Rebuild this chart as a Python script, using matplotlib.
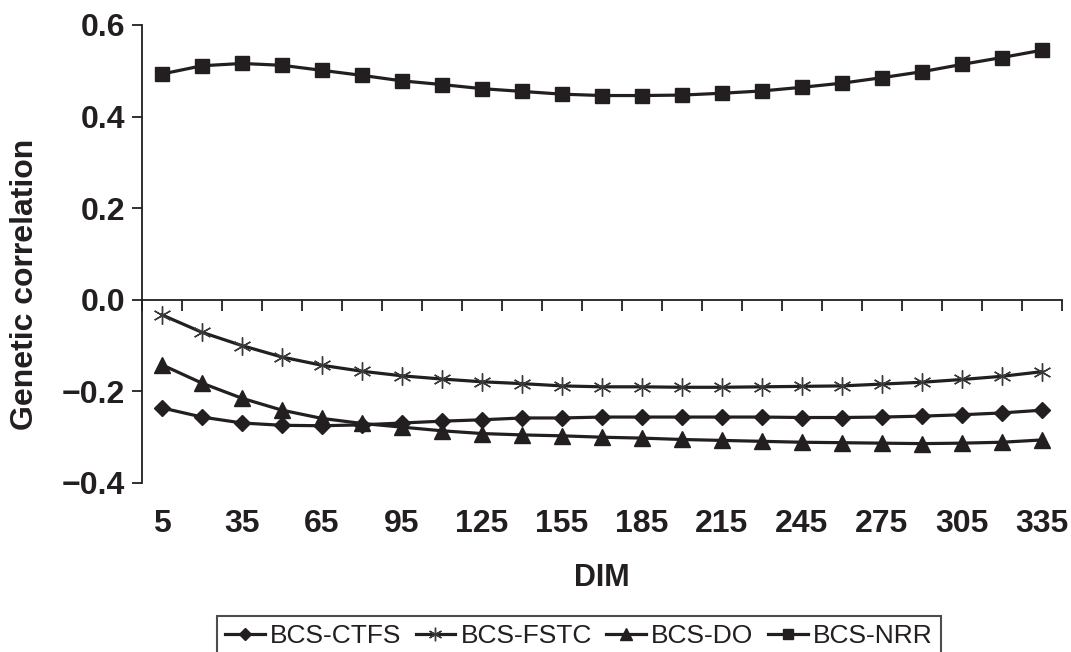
import matplotlib
matplotlib.use("Agg")
import matplotlib.pyplot as plt
import numpy as np

dim = [5, 20, 35, 50, 65, 80, 95, 110, 125, 140, 155, 170, 185, 200, 215, 230, 245, 260, 275, 290, 305, 320, 335]
series_names = ["BCS-CTFS", "BCS-FSTC", "BCS-DO", "BCS-NRR"]
ctfs = [-0.236, -0.256, -0.269, -0.274, -0.275, -0.273, -0.269, -0.265, -0.262, -0.258, -0.258, -0.256,
        -0.256, -0.256, -0.256, -0.256, -0.257, -0.257, -0.256, -0.254, -0.251, -0.247, -0.241]
fstc = [-0.033, -0.071, -0.100, -0.125, -0.143, -0.156, -0.166, -0.173, -0.179, -0.183, -0.188, -0.190,
        -0.190, -0.191, -0.191, -0.190, -0.189, -0.188, -0.184, -0.180, -0.174, -0.167, -0.157]
do = [-0.142, -0.182, -0.215, -0.241, -0.259, -0.270, -0.278, -0.286, -0.292, -0.295, -0.297, -0.300,
      -0.302, -0.305, -0.307, -0.309, -0.311, -0.312, -0.313, -0.314, -0.313, -0.311, -0.306]
nrr = [0.493, 0.511, 0.516, 0.512, 0.501, 0.490, 0.478, 0.470, 0.461, 0.455, 0.449, 0.446,
       0.446, 0.447, 0.451, 0.456, 0.464, 0.473, 0.485, 0.498, 0.514, 0.529, 0.545]
yticks = [-0.4, -0.2, 0.0, 0.2, 0.4, 0.6]
xlabels_shown = [5, 35, 65, 95, 125, 155, 185, 215, 245, 275, 305, 335]

plt.rcParams['font.family'] = ['Liberation Sans', 'DejaVu Sans']
col = '#231f20'

fig = plt.figure(figsize=(10.71, 6.52), dpi=100)
ax = fig.add_axes([142/1071, 1-483/652, (1062-142)/1071, (483-25)/652])

x = np.arange(len(dim))
lw = 2.3
ax.plot(x, ctfs, color=col, lw=lw, marker='D', ms=8.5, label=series_names[0])
ax.plot(x, fstc, color=col, lw=lw, marker=(6, 2, 0), ms=13, mew=1.0, mec='#3a3a3a', label=series_names[1])
ax.plot(x, do, color=col, lw=lw, marker='^', ms=11, label=series_names[2])
ax.plot(x, nrr, color=col, lw=lw, marker='s', ms=10, label=series_names[3])

ax.set_xlim(-0.5, len(dim) - 0.5)
ax.set_ylim(-0.4, 0.6)
ax.set_yticks(yticks)
ax.set_yticklabels([f"{v:.1f}".replace("-", "\u2212") for v in yticks],
                   fontsize=23, fontweight='bold', color=col)
ax.tick_params(axis='y', direction='out', length=7, width=1.3, pad=5, colors=col)

for s in ['top', 'right']:
    ax.spines[s].set_visible(False)
ax.spines['left'].set_linewidth(1.3)
ax.spines['left'].set_color(col)
ax.spines['bottom'].set_position(('data', 0))
ax.spines['bottom'].set_linewidth(1.3)
ax.spines['bottom'].set_color(col)
ax.set_xticks(np.arange(-0.5, len(dim), 1.0))
ax.set_xticklabels([])
ax.tick_params(axis='x', direction='out', length=8, width=1.3, colors=col)

sec = ax.secondary_xaxis(0)
idx = [dim.index(v) for v in xlabels_shown]
sec.set_xticks(idx)
sec.set_xticklabels([str(v) for v in xlabels_shown], fontsize=23, fontweight='bold', color=col)
sec.tick_params(axis='x', length=0, pad=19)
sec.spines['bottom'].set_visible(False)

fig.text(602/1071, 1-578/652, "DIM", fontsize=22, fontweight='bold', color=col, ha='center', va='center')
fig.text(25/1071, 1-284/652, "Genetic correlation", fontsize=23, fontweight='bold', color=col,
         ha='center', va='center', rotation=90)

leg = fig.legend(loc='upper left', bbox_to_anchor=(217/1071, 1-616/652), ncol=4, frameon=True,
                 fancybox=False, edgecolor=col, fontsize=19, handlelength=1.5, handletextpad=0.2,
                 columnspacing=0.55, borderpad=0.3, borderaxespad=0, markerscale=0.75)
leg.get_frame().set_linewidth(1.5)
for t in leg.get_texts():
    t.set_color(col)

fig.savefig("out.png", dpi=100)
